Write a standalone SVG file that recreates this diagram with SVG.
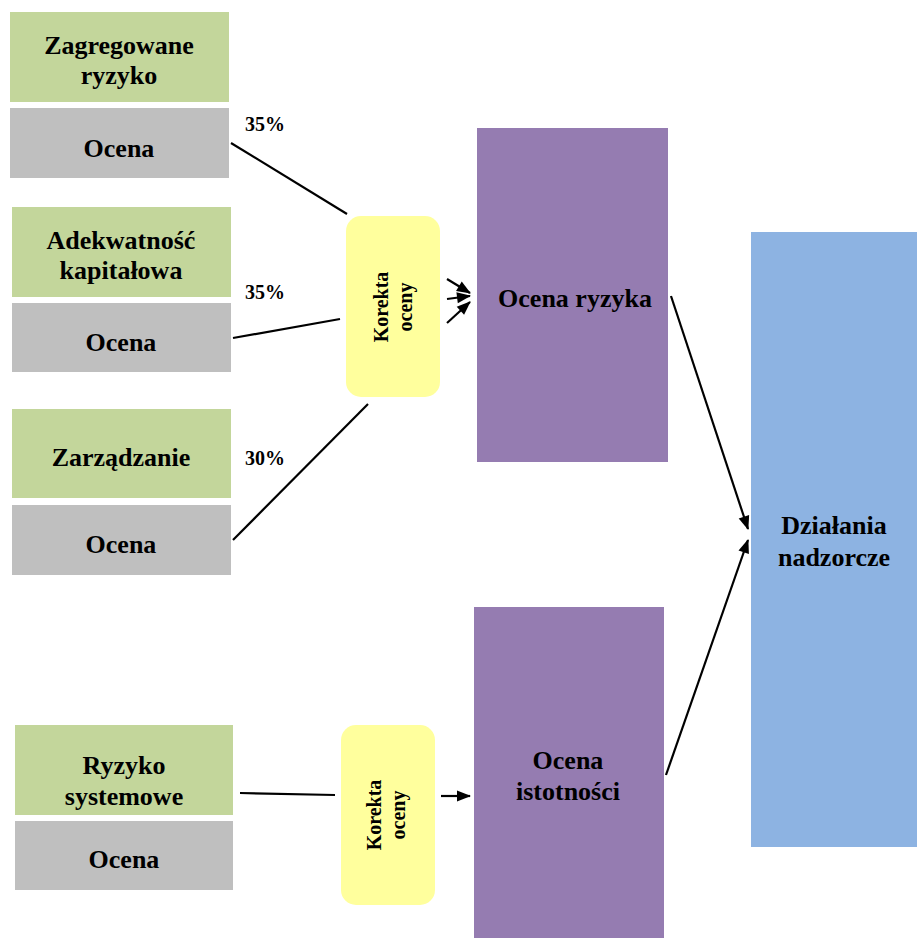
<svg xmlns="http://www.w3.org/2000/svg" width="917" height="938" viewBox="0 0 917 938">
<style>
.g{fill:#C3D69B}
.s{fill:#BFBFBF}
.y{fill:#FFFF9D}
.p{fill:#957CB1}
.b{fill:#8DB3E2}
text{font-family:"Liberation Serif","Times New Roman",serif;font-weight:bold;fill:#000;text-anchor:middle}
.t{font-size:26px}
.k{font-size:20px}
.pc{font-size:20px}
.c{stroke:#000;stroke-width:2.2;fill:none}
.a{marker-end:url(#ah)}
</style>
<defs>
<marker id="ah" markerUnits="userSpaceOnUse" markerWidth="15" markerHeight="12" refX="13" refY="6" orient="auto" overflow="visible">
<path d="M0,0.5 L14,6 L0,11.5 z" fill="#000"/>
</marker>
</defs>
<rect width="917" height="938" fill="#fff"/>
<g id="zagregowane"><rect class="g" x="10" y="12" width="219" height="90"/><text class="t" x="119" y="54">Zagregowane</text><text class="t" x="119" y="84">ryzyko</text></g>
<g id="ocena1"><rect class="s" x="10" y="108" width="219" height="70"/><text class="t" x="119" y="157">Ocena</text></g>
<g id="adekwatnosc"><rect class="g" x="12" y="207" width="219" height="90"/><text class="t" x="121" y="249">Adekwatność</text><text class="t" x="121" y="279">kapitałowa</text></g>
<g id="ocena2"><rect class="s" x="12" y="303" width="219" height="69"/><text class="t" x="121" y="351">Ocena</text></g>
<g id="zarzadzanie"><rect class="g" x="12" y="409" width="219" height="89"/><text class="t" x="121" y="466">Zarządzanie</text></g>
<g id="ocena3"><rect class="s" x="12" y="505" width="219" height="70"/><text class="t" x="121" y="553">Ocena</text></g>
<g id="ryzyko-systemowe"><rect class="g" x="15" y="725" width="218" height="90"/><text class="t" x="124" y="774">Ryzyko</text><text class="t" x="124" y="805">systemowe</text></g>
<g id="ocena4"><rect class="s" x="15" y="821" width="218" height="69"/><text class="t" x="124" y="868">Ocena</text></g>
<g id="korekta1"><rect class="y" x="346" y="216" width="94" height="181" rx="15"/><text class="k" transform="translate(393,307) rotate(-90)"><tspan x="0" y="-5">Korekta</tspan><tspan x="0" y="19">oceny</tspan></text></g>
<g id="korekta2"><rect class="y" x="341" y="725" width="94" height="180" rx="15"/><text class="k" transform="translate(388,815) rotate(-90)"><tspan x="0" y="-7">Korekta</tspan><tspan x="0" y="17">oceny</tspan></text></g>
<g id="ocena-ryzyka"><rect class="p" x="477" y="128" width="191" height="334"/><text class="t" x="575" y="307">Ocena ryzyka</text></g>
<g id="ocena-istotnosci"><rect class="p" x="474" y="607" width="190" height="331"/><text class="t" x="568" y="769">Ocena</text><text class="t" x="568" y="800">istotności</text></g>
<g id="dzialania"><rect class="b" x="751" y="232" width="166" height="615"/><text class="t" x="834" y="534">Działania</text><text class="t" x="834" y="566">nadzorcze</text></g>
<g id="labels">
<text class="pc" x="265" y="131">35%</text>
<text class="pc" x="265" y="299">35%</text>
<text class="pc" x="265" y="465">30%</text>
</g>
<g id="connectors">
<line class="c" x1="231" y1="143" x2="347" y2="214"/>
<line class="c" x1="233" y1="338" x2="340" y2="319"/>
<line class="c" x1="233" y1="540" x2="368" y2="404"/>
<line class="c a" x1="447" y1="279" x2="470" y2="293"/>
<line class="c a" x1="447" y1="299" x2="470" y2="296"/>
<line class="c a" x1="447" y1="323" x2="470" y2="302"/>
<line class="c" x1="240" y1="793" x2="335" y2="795"/>
<line class="c a" x1="441" y1="796" x2="470" y2="796"/>
<line class="c a" x1="671" y1="296" x2="748" y2="529"/>
<line class="c a" x1="666" y1="775" x2="748" y2="540"/>
</g>
</svg>
